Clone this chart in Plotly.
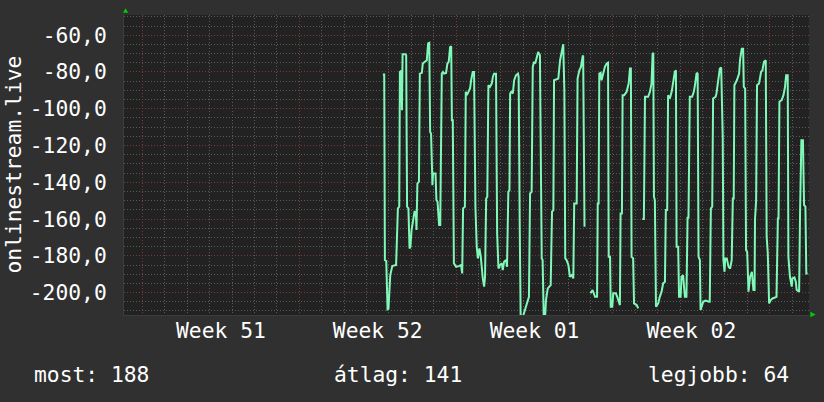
import plotly.graph_objects as go

# --- data: days since start of Week 51, value of onlinestream.live ---
days_seg1 = [10.73,10.79,10.82,10.88,10.94,10.98,11.06,11.15,11.32,11.40,
             11.46,11.49,11.55,11.58,11.61,11.74,11.77,11.81,11.87,11.92,
             11.96,12.01,12.07,12.14,12.20,12.23,12.27,12.34,12.38,12.47,
             12.51,12.60,12.69,12.75,12.80,12.84,12.88,12.93,12.94,12.97,
             13.08,13.12,13.17,13.24,13.29,13.36,13.41,13.46,13.55,13.61,
             13.67,13.73,13.78,13.81,13.85,13.90,14.00,14.12,14.22,14.27,
             14.31,14.39,14.43,14.48,14.55,14.62,14.67,14.74,14.80,14.86,
             14.92,14.97,15.04,15.10,15.19,15.25,15.29,15.34,15.39,15.44,
             15.51,15.59,15.64,15.69,15.78,15.83,15.89,15.96,16.04,16.08,
             16.14,16.23,16.27,16.33,16.38,16.41,16.46,16.53,16.59,16.67,
             16.76,16.79,16.84,16.88,16.97,17.08,17.15,17.25,17.30,17.37,
             17.42,17.48,17.53,17.60,17.66,17.74,17.82,17.86,17.91,17.97,
             18.01,18.09,18.15,18.22,18.28,18.34,18.37,18.46,18.56,18.64,
             18.72,18.78,18.83,18.87,18.93,19.01,19.08,19.16,19.23,19.27,
             19.38,19.42,19.50,19.57,19.65,19.67,19.73]
vals_seg1 = [-81.4,-81.4,-182.3,-182.7,-209.1,-208.8,-190.5,-185.6,-185.0,-154.2,
             -153.3,-80.0,-79.4,-100.8,-70.3,-70.3,-70.9,-153.3,-154.2,-176.0,
             -175.1,-166.0,-161.5,-156.0,-156.0,-166.0,-140.7,-139.7,-80.9,-80.5,
             -75.4,-74.5,-73.6,-64.5,-64.2,-112.6,-113.5,-135.2,-141.6,-135.2,
             -135.2,-149.7,-150.6,-163.3,-163.3,-80.9,-80.0,-80.9,-80.5,-75.4,
             -74.5,-66.4,-66.0,-106.2,-106.2,-184.1,-186.0,-185.6,-185.0,-189.6,
             -154.2,-153.3,-90.8,-92.6,-90.8,-89.0,-84.5,-80.0,-80.0,-153.3,
             -175.1,-181.4,-176.0,-180.5,-192.3,-196.8,-191.4,-148.8,-147.9,-87.2,
             -88.1,-86.3,-82.7,-80.9,-80.9,-167.8,-186.9,-185.0,-184.1,-187.8,
             -183.2,-182.3,-186.0,-145.2,-144.3,-91.7,-90.8,-91.7,-84.5,-81.8,
             -80.9,-82.7,-166.0,-214.0,-213.5,-209.5,-206.8,-202.3,-146.1,-145.2,
             -77.2,-74.5,-75.4,-70.9,-69.1,-70.9,-181.4,-182.3,-213.5,-213.5,
             -204.1,-197.7,-196.8,-195.9,-156.0,-155.1,-84.5,-84.1,-83.6,-73.6,
             -68.2,-64.9,-89.9,-181.4,-182.3,-185.0,-191.4,-190.5,-192.3,-151.5,
             -151.5,-83.6,-79.1,-77.2,-71.4,-71.0,-164.2]

days_seg2 = [20.00,20.09,20.20,20.29,20.32,20.36,20.39,20.45,20.49,20.57,
             20.64,20.72,20.78,20.81,20.87,20.90,20.97,21.01,21.13,21.19,
             21.28,21.31,21.34,21.40,21.43,21.50,21.61,21.70,21.76,21.80,
             21.83,21.90,21.94,22.06,22.13]
vals_seg2 = [-200.4,-198.6,-202.3,-202.3,-151.5,-151.5,-80.9,-80.5,-84.5,-80.9,
             -77.2,-75.4,-75.0,-180.5,-180.5,-207.7,-207.7,-200.4,-200.4,-202.3,
             -206.8,-206.8,-157.0,-157.0,-92.6,-92.6,-90.8,-86.3,-78.1,-78.1,
             -180.5,-181.4,-205.9,-206.8,-208.6]

days_seg3 = [22.31,22.38,22.43,22.57,22.65,22.72,22.77,22.80,22.83,22.87,
             22.92,23.02,23.09,23.17,23.24,23.32,23.36,23.42,23.46,23.54,
             23.62,23.69,23.76,23.81,23.84,23.91,23.95,24.02,24.06,24.13,
             24.21,24.28,24.33,24.37,24.43,24.53,24.61,24.67,24.73,24.78,
             24.82,24.88,24.91,25.03,25.13,25.29,25.32,25.37,25.43,25.47,
             25.58,25.62,25.69,25.77,25.83,25.89,25.90,25.93,25.98,26.01,
             26.08,26.16,26.23,26.30,26.35,26.39,26.42,26.53,26.63,26.67,
             26.75,26.81,26.84,26.90,26.94,26.99,27.05,27.12,27.20,27.27,
             27.32,27.34,27.39,27.43,27.52,27.61,27.67,27.74,27.82,27.86,
             27.91,27.97,28.04,28.12,28.24,28.30,28.36,28.39,28.43,28.53,
             28.61,28.68,28.73,28.80,28.83,28.90,28.98,29.01,29.10,29.16,
             29.20,29.31,29.35,29.41,29.48,29.53,29.59,29.63,29.69]
vals_seg3 = [-160.0,-160.0,-93.5,-93.5,-90.8,-86.3,-70.0,-69.6,-147.9,-149.7,
             -207.7,-205.9,-202.3,-199.5,-195.0,-194.1,-155.1,-155.1,-92.6,-94.4,
             -90.8,-86.3,-80.0,-79.1,-175.1,-175.1,-202.3,-202.3,-191.4,-190.5,
             -202.3,-202.3,-158.8,-159.7,-93.5,-93.5,-90.8,-86.3,-80.9,-80.5,
             -180.5,-182.3,-209.5,-205.0,-204.4,-205.0,-205.0,-154.2,-153.3,-94.4,
             -93.5,-91.7,-86.3,-78.1,-77.6,-115.3,-115.3,-182.3,-188.7,-181.4,
             -181.4,-186.0,-186.9,-182.3,-148.8,-148.8,-87.2,-84.5,-80.9,-73.6,
             -67.3,-67.3,-88.1,-89.0,-176.9,-177.8,-199.5,-191.4,-188.7,-198.6,
             -198.6,-160.0,-150.0,-87.2,-86.3,-80.0,-79.1,-74.5,-73.6,-169.6,
             -178.7,-205.9,-204.1,-203.2,-202.3,-202.3,-159.7,-159.7,-96.2,-95.3,
             -92.6,-88.1,-81.8,-81.8,-180.5,-191.4,-196.8,-192.3,-191.8,-194.1,
             -198.6,-199.5,-157.0,-117.1,-117.1,-152.4,-153.3,-189.6,-189.6]

week_starts = [0, 7, 14, 21, 28]
week_label_pos = [3.5, 10.5, 17.5, 24.5]
week_labels = ["Week 51", "Week 52", "Week 01", "Week 02"]
y_tickvals = [-60, -80, -100, -120, -140, -160, -180, -200]
y_ticktext = ["-60,0", "-80,0", "-100,0", "-120,0", "-140,0", "-160,0", "-180,0", "-200,0"]
series_name = "onlinestream.live"
legend_texts = ["most: 188", "átlag: 141", "legjobb: 64"]

assert len(days_seg1) == len(vals_seg1)
assert len(days_seg2) == len(vals_seg2)
assert len(days_seg3) == len(vals_seg3)

x_all = days_seg1 + [None] + days_seg2 + [None] + days_seg3
y_all = vals_seg1 + [None] + vals_seg2 + [None] + vals_seg3

FONT = "DejaVu Sans Mono"
FS = 21.3
XR = [-0.825, 29.75]

fig = go.Figure()
fig.add_trace(go.Scatter(x=x_all, y=y_all, mode="lines", connectgaps=False,
                         line=dict(color="#80f8b8", width=2),
                         showlegend=False, hoverinfo="skip"))
fig.add_trace(go.Scatter(x=[], y=[], xaxis="x2", showlegend=False, hoverinfo="skip"))

fig.update_layout(
    width=824, height=402,
    margin=dict(l=124, r=15, t=15, b=87),
    paper_bgcolor="#303030", plot_bgcolor="#222222",
    font=dict(family=FONT, size=FS, color="white"),
    showlegend=False,
    xaxis=dict(range=XR, tickmode="array", tickvals=week_label_pos, ticktext=week_labels,
               showgrid=False, zeroline=False, ticks="", ticklabelstandoff=-4,
               showline=True, linecolor="#3c3c3c", linewidth=1,
               minor=dict(tick0=0, dtick=1, showgrid=True, gridcolor="#5a5a5a",
                          griddash="1px,2px", gridwidth=1),
               tickfont=dict(family=FONT, size=FS, color="white")),
    xaxis2=dict(range=XR, overlaying="x", anchor="y", side="bottom",
                tickmode="array", tickvals=week_starts, showticklabels=False,
                showgrid=True, gridcolor="#7a3a3a", griddash="1px,2px", gridwidth=1,
                zeroline=False, ticks=""),
    yaxis=dict(range=[-212.2, -49.0], tickmode="array", tickvals=y_tickvals, ticktext=y_ticktext,
               showgrid=True, gridcolor="#7a3a3a", griddash="1px,2px", gridwidth=1,
               zeroline=False, ticks="", ticklabelstandoff=12,
               showline=True, linecolor="#3c3c3c", linewidth=1,
               minor=dict(tick0=0, dtick=5, showgrid=True, gridcolor="#5a5a5a",
                          griddash="1px,2px", gridwidth=1),
               tickfont=dict(family=FONT, size=FS, color="white")),
)

fig.add_annotation(text=series_name, xref="paper", yref="paper", x=-0.1626, y=0.5,
                   textangle=-90, showarrow=False, xanchor="center", yanchor="middle",
                   font=dict(family=FONT, size=FS, color="white"))
for txt, xp in zip(legend_texts, [-0.1342, 0.3040, 0.7626]):
    fig.add_annotation(text=txt, xref="paper", yref="paper", x=xp, y=-0.198,
                       showarrow=False, xanchor="left", yanchor="middle",
                       font=dict(family=FONT, size=FS, color="white"))

# rrdtool-style axis arrows
fig.add_shape(type="path", xref="x domain", yref="y domain", xsizemode="pixel", ysizemode="pixel",
              xanchor=0, yanchor=1, path="M -1,2.3 L 4.2,2.3 L 1.6,6.7 Z",
              fillcolor="#00cc00", line=dict(width=0))
fig.add_shape(type="path", xref="x domain", yref="y domain", xsizemode="pixel", ysizemode="pixel",
              xanchor=1, yanchor=0, path="M 1.4,3.3 L 1.4,-2.3 L 6.7,0.5 Z",
              fillcolor="#00cc00", line=dict(width=0))

fig.write_html("out.html", config={"displayModeBar": False},
               post_script="document.body.style.margin='0';document.body.style.padding='0';"
                           "document.documentElement.style.overflow='hidden';")
